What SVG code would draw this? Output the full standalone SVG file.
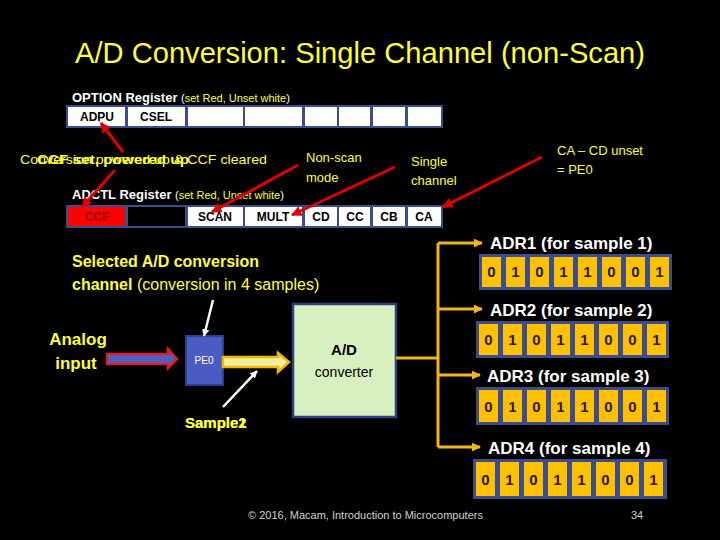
<svg xmlns="http://www.w3.org/2000/svg" width="720" height="540" viewBox="0 0 720 540">
<defs>
<style>
text{font-family:"Liberation Sans",Arial,sans-serif}
.y{fill:#ffff33}
.w{fill:#ffffff}
.frame{fill:#3b4d8a}
.cell{fill:#ffffff}
.lbl{font-size:12px;font-weight:bold;fill:#000;text-anchor:middle}
.bit{fill:#ffc000}
.dig{font-size:15px;font-weight:bold;fill:#2a1a00;text-anchor:middle}
.adr{font-size:17px;font-weight:bold;fill:#ffffff}
.red{stroke:#e00000;stroke-width:3;fill:none}
.bus{stroke:#f3b51b;stroke-width:3;fill:none}
.wht{stroke:#ffffff;stroke-width:2.5;fill:none}
</style>
<marker id="ar" viewBox="0 0 10 10" refX="9" refY="5" markerWidth="3.5" markerHeight="3.5" orient="auto"><path d="M0,0L10,5L0,10z" fill="#e00000"/></marker>
<marker id="ab" viewBox="0 0 10 10" refX="9" refY="5" markerWidth="3" markerHeight="3" orient="auto"><path d="M0,0L10,5L0,10z" fill="#f3b51b"/></marker>
<marker id="aw" viewBox="0 0 10 10" refX="9" refY="5" markerWidth="3" markerHeight="3" orient="auto"><path d="M0,0L10,5L0,10z" fill="#ffffff"/></marker>
</defs>
<rect width="720" height="540" fill="#000"/>

<text id="title" x="360" y="63" font-size="30" text-anchor="middle" textLength="570" lengthAdjust="spacingAndGlyphs" class="y">A/D Conversion: Single Channel (non-Scan)</text>

<g id="option-register">
<text x="72" y="102" font-size="13" font-weight="bold" class="w">OPTION Register <tspan font-size="11" font-weight="normal">(<tspan class="y">set Red, Unset white</tspan>)</tspan></text>
<rect class="frame" x="66" y="105" width="377" height="23"/>
<rect class="cell" x="68" y="107" width="57" height="19"/>
<rect class="cell" x="128" y="107" width="57" height="19"/>
<rect class="cell" x="188" y="107" width="55" height="19"/>
<rect class="cell" x="245" y="107" width="57" height="19"/>
<rect class="cell" x="305" y="107" width="32" height="19"/>
<rect class="cell" x="339" y="107" width="31" height="19"/>
<rect class="cell" x="373" y="107" width="32" height="19"/>
<rect class="cell" x="408" y="107" width="33" height="19"/>
<text class="lbl" x="97" y="121">ADPU</text>
<text class="lbl" x="156" y="121">CSEL</text>
</g>

<g id="adctl-register">
<text x="72" y="199" font-size="13" font-weight="bold" class="w">ADCTL Register <tspan font-size="11" font-weight="normal">(<tspan class="y">set Red, Unset white</tspan>)</tspan></text>
<rect class="frame" x="66" y="205" width="377" height="23"/>
<rect x="68" y="207" width="57" height="19" fill="#ff0000"/>
<rect x="128" y="207" width="57" height="19" fill="#000000"/>
<rect class="cell" x="188" y="207" width="55" height="19"/>
<rect class="cell" x="245" y="207" width="57" height="19"/>
<rect class="cell" x="305" y="207" width="32" height="19"/>
<rect class="cell" x="339" y="207" width="31" height="19"/>
<rect class="cell" x="373" y="207" width="32" height="19"/>
<rect class="cell" x="408" y="207" width="33" height="19"/>
<text class="lbl" x="97" y="221" style="fill:#8a0000">CCF</text>
<text class="lbl" x="215" y="221">SCAN</text>
<text class="lbl" x="273" y="221">MULT</text>
<text class="lbl" x="321" y="221">CD</text>
<text class="lbl" x="355" y="221">CC</text>
<text class="lbl" x="389" y="221">CB</text>
<text class="lbl" x="424" y="221">CA</text>
</g>

<g id="notes" font-size="13">
<text class="y" x="20" y="164" textLength="247" lengthAdjust="spacingAndGlyphs">Conversion powered up &amp; CCF cleared</text>
<text class="y" x="37" y="164" font-weight="bold" textLength="152" lengthAdjust="spacingAndGlyphs">CCF set, powered up</text>
<text class="y" x="306" y="162">Non-scan</text>
<text class="y" x="306" y="182">mode</text>
<text class="y" x="411" y="166">Single</text>
<text class="y" x="411" y="185">channel</text>
<text class="y" x="557" y="155">CA – CD unset</text>
<text class="y" x="557" y="174">= PE0</text>
</g>

<g id="selected-label">
<text class="y" x="72" y="267" font-size="16" font-weight="bold">Selected A/D conversion</text>
<text class="y" x="72" y="290" font-size="16"><tspan font-weight="bold">channel </tspan>(conversion in 4 samples)</text>
</g>

<g id="analog-input">
<text class="y" x="78" y="345" font-size="17" font-weight="bold" text-anchor="middle">Analog</text>
<text class="y" x="76" y="369" font-size="17" font-weight="bold" text-anchor="middle">input</text>
<path d="M107,354H168V349L177,359L168,368V364H107Z" fill="#5060c0" stroke="#e02020" stroke-width="2.5"/>
</g>

<g id="pe0">
<rect x="186" y="336" width="37" height="49" fill="#4a5cc4" stroke="#2f3f8f" stroke-width="2"/>
<text x="204" y="364" font-size="10" text-anchor="middle" class="w">PE0</text>
</g>

<g id="sample-arrow">
<path d="M223,357H278V353L289,362L278,372V367H223Z" fill="#f0f0a0" stroke="#f5b800" stroke-width="2.5"/>
<text class="y" x="185" y="428" font-size="15" font-weight="bold">Sample1</text>
<text class="y" x="185" y="428" font-size="15" font-weight="bold">Sample2</text>
</g>

<g id="ad-converter">
<rect x="293" y="304" width="103" height="113" fill="#d8efc0" stroke="#2f3f7f" stroke-width="2.5"/>
<text x="344" y="355" font-size="15" font-weight="bold" text-anchor="middle" fill="#000">A/D</text>
<text x="344" y="377" font-size="14" text-anchor="middle" fill="#000">converter</text>
</g>

<g id="adr1">
<text class="adr" x="490" y="249">ADR1 (for sample 1)</text>
<rect class="frame" x="479" y="254" width="193" height="36"/>
<g transform="translate(479,254)">
<rect class="bit" x="3" y="3" width="19" height="30"/><rect class="bit" x="27" y="3" width="19" height="30"/><rect class="bit" x="51" y="3" width="19" height="30"/><rect class="bit" x="75" y="3" width="19" height="30"/><rect class="bit" x="99" y="3" width="19" height="30"/><rect class="bit" x="123" y="3" width="19" height="30"/><rect class="bit" x="147" y="3" width="19" height="30"/><rect class="bit" x="171" y="3" width="19" height="30"/>
<text class="dig" x="12.5" y="23">0</text><text class="dig" x="36.5" y="23">1</text><text class="dig" x="60.5" y="23">0</text><text class="dig" x="84.5" y="23">1</text><text class="dig" x="108.5" y="23">1</text><text class="dig" x="132.5" y="23">0</text><text class="dig" x="156.5" y="23">0</text><text class="dig" x="180.5" y="23">1</text>
</g>
</g>

<g id="adr2">
<text class="adr" x="490" y="316">ADR2 (for sample 2)</text>
<rect class="frame" x="476" y="321" width="193" height="37"/>
<g transform="translate(476,321)">
<rect class="bit" x="3" y="3" width="19" height="31"/><rect class="bit" x="27" y="3" width="19" height="31"/><rect class="bit" x="51" y="3" width="19" height="31"/><rect class="bit" x="75" y="3" width="19" height="31"/><rect class="bit" x="99" y="3" width="19" height="31"/><rect class="bit" x="123" y="3" width="19" height="31"/><rect class="bit" x="147" y="3" width="19" height="31"/><rect class="bit" x="171" y="3" width="19" height="31"/>
<text class="dig" x="12.5" y="24">0</text><text class="dig" x="36.5" y="24">1</text><text class="dig" x="60.5" y="24">0</text><text class="dig" x="84.5" y="24">1</text><text class="dig" x="108.5" y="24">1</text><text class="dig" x="132.5" y="24">0</text><text class="dig" x="156.5" y="24">0</text><text class="dig" x="180.5" y="24">1</text>
</g>
</g>

<g id="adr3">
<text class="adr" x="487" y="382">ADR3 (for sample 3)</text>
<rect class="frame" x="476" y="387" width="193" height="38"/>
<g transform="translate(476,387)">
<rect class="bit" x="3" y="3" width="19" height="32"/><rect class="bit" x="27" y="3" width="19" height="32"/><rect class="bit" x="51" y="3" width="19" height="32"/><rect class="bit" x="75" y="3" width="19" height="32"/><rect class="bit" x="99" y="3" width="19" height="32"/><rect class="bit" x="123" y="3" width="19" height="32"/><rect class="bit" x="147" y="3" width="19" height="32"/><rect class="bit" x="171" y="3" width="19" height="32"/>
<text class="dig" x="12.5" y="25">0</text><text class="dig" x="36.5" y="25">1</text><text class="dig" x="60.5" y="25">0</text><text class="dig" x="84.5" y="25">1</text><text class="dig" x="108.5" y="25">1</text><text class="dig" x="132.5" y="25">0</text><text class="dig" x="156.5" y="25">0</text><text class="dig" x="180.5" y="25">1</text>
</g>
</g>

<g id="adr4">
<text class="adr" x="488" y="454">ADR4 (for sample 4)</text>
<rect class="frame" x="473" y="459" width="194" height="40"/>
<g transform="translate(473,459)">
<rect class="bit" x="3" y="3" width="19" height="34"/><rect class="bit" x="27" y="3" width="19" height="34"/><rect class="bit" x="51" y="3" width="19" height="34"/><rect class="bit" x="75" y="3" width="19" height="34"/><rect class="bit" x="99" y="3" width="19" height="34"/><rect class="bit" x="123" y="3" width="19" height="34"/><rect class="bit" x="147" y="3" width="19" height="34"/><rect class="bit" x="171" y="3" width="19" height="34"/>
<text class="dig" x="12.5" y="26">0</text><text class="dig" x="36.5" y="26">1</text><text class="dig" x="60.5" y="26">0</text><text class="dig" x="84.5" y="26">1</text><text class="dig" x="108.5" y="26">1</text><text class="dig" x="132.5" y="26">0</text><text class="dig" x="156.5" y="26">0</text><text class="dig" x="180.5" y="26">1</text>
</g>
</g>

<g id="connectors">
<line class="red" x1="123" y1="152" x2="101" y2="123" marker-end="url(#ar)"/>
<line class="red" x1="115" y1="170" x2="82" y2="207" marker-end="url(#ar)"/>
<line class="red" x1="298" y1="165" x2="212" y2="212" marker-end="url(#ar)"/>
<line class="red" x1="395" y1="167" x2="292" y2="215" marker-end="url(#ar)"/>
<line class="red" x1="542" y1="157" x2="443" y2="207" marker-end="url(#ar)"/>
<line class="wht" x1="213" y1="300" x2="204" y2="336" marker-end="url(#aw)"/>
<line class="wht" x1="223" y1="407" x2="257" y2="371" marker-end="url(#aw)"/>
<path class="bus" d="M396,358H438M438,243V447"/>
<line class="bus" x1="438" y1="243" x2="482" y2="243" marker-end="url(#ab)"/>
<line class="bus" x1="438" y1="309" x2="482" y2="309" marker-end="url(#ab)"/>
<line class="bus" x1="438" y1="375" x2="480" y2="375" marker-end="url(#ab)"/>
<line class="bus" x1="438" y1="447" x2="480" y2="447" marker-end="url(#ab)"/>
</g>

<g id="footer" font-size="11" fill="#d0d0d0">
<text x="248" y="519">© 2016, Macam, Introduction to Microcomputers</text>
<text x="631" y="519">34</text>
</g>
</svg>
